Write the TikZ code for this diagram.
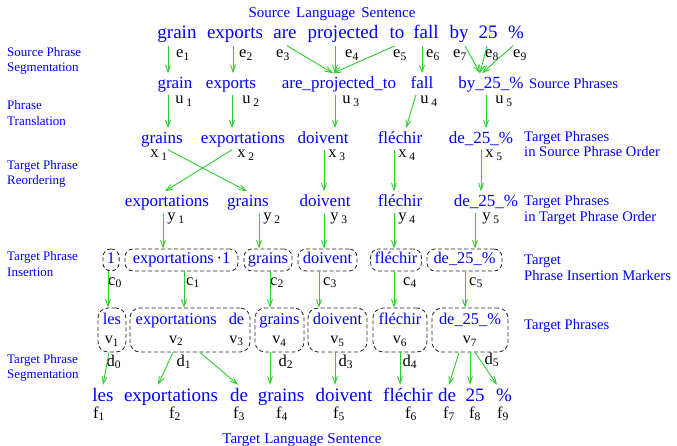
\documentclass[tikz,border=0pt]{standalone}
\usepackage{fontspec}
\setmainfont{Liberation Serif}
\usepackage{tikz}
\usetikzlibrary{arrows.meta}

\definecolor{arrgreen}{RGB}{45,205,45}
\newcommand{\sublab}[2]{#1\textsubscript{#2}}
\newcommand{\sublabsp}[2]{#1\,\textsubscript{#2}}
\newcommand{\vlab}[1]{{\color{black}\fontsize{16}{19}\selectfont v\textsubscript{#1}}}

\begin{document}
\begin{tikzpicture}[x=1pt, y=-1pt,
        word/.style={text=blue, font=\fontsize{19}{22}\selectfont,
            inner sep=0pt, outer sep=3pt, text height=13.3pt, text depth=4.2pt},
        phrase/.style={text=blue, font=\fontsize{17}{20}\selectfont,
            inner sep=0pt, outer sep=3pt, text height=11.9pt, text depth=3.7pt},
        var/.style={font=\fontsize{16.5}{18}\selectfont, inner sep=0pt, anchor=base},
        title/.style={text=blue, font=\fontsize{15}{18}\selectfont, inner sep=0pt},
        stage/.style={text=blue, font=\fontsize{13}{15.5}\selectfont,
            align=left, anchor=west, inner sep=0pt},
        side/.style={text=blue, font=\fontsize{14.6}{15.5}\selectfont,
            align=left, anchor=west, inner sep=0pt},
        marker/.style={draw=black!85, dash pattern=on 4pt off 2.5pt, line width=0.8pt,
            rounded corners=8pt, text=blue, font=\fontsize{16.4}{19}\selectfont,
            minimum height=22pt, inner xsep=4pt, inner ysep=0pt,
            text height=11.5pt, text depth=3.6pt},
        tbox/.style={draw=black!85, dash pattern=on 4pt off 2.5pt, line width=0.8pt,
            rounded corners=10pt, text=blue, font=\fontsize{16.4}{19}\selectfont,
            minimum height=44pt, inner xsep=4pt, inner ysep=0pt, align=center},
        arr/.style={-{Straight Barb[length=7pt,width=5pt]}, line width=0.9pt, arrgreen}
      ]
      \useasboundingbox (0,0) rectangle (677,446);

      % Stage names, left column
      \node[stage] at (7,61)  (st1) {Source Phrase\\Segmentation};
      \node[stage] at (7,113) (st2) {Phrase\\Translation};
      \node[stage] at (7,174) (st3) {Target Phrase\\Reordering};
      \node[stage] at (7,264) (st4) {Target Phrase\\Insertion};
      \node[stage] at (7,368) (st5) {Target Phrase\\Segmentation};

      % Source sentence
      \node[title] at (332,14) (srctitle) {Source\hspace{6pt}Language\hspace{6pt}Sentence};
      \node[word] at (177,34) (s1) {grain};
      \node[word] at (235,34) (s2) {exports};
      \node[word] at (285,34) (s3) {are};
      \node[word] at (343,34) (s4) {projected};
      \node[word] at (397,34) (s5) {to};
      \node[word] at (426,34) (s6) {fall};
      \node[word] at (459,34) (s7) {by};
      \node[word] at (488,34) (s8) {25};
      \node[word] at (516,34) (s9) {\%};

      \node[var] at (183,57.5) (e1) {\sublab{e}{1}};
      \node[var] at (246,57.5) (e2) {\sublab{e}{2}};
      \node[var] at (283,57.5) (e3) {\sublab{e}{3}};
      \node[var] at (352,57.5) (e4) {\sublab{e}{4}};
      \node[var] at (400,57.5) (e5) {\sublab{e}{5}};
      \node[var] at (433,57.5) (e6) {\sublab{e}{6}};
      \node[var] at (460,57.5) (e7) {\sublab{e}{7}};
      \node[var] at (492,57.5) (e8) {\sublab{e}{8}};
      \node[var] at (520,57.5) (e9) {\sublab{e}{9}};

      % Source phrases
      \node[phrase] at (175,84) (sp1) {grain};
      \node[phrase] at (231,84) (sp2) {exports};
      \node[phrase] at (339,84) (sp3) {are\_projected\_to};
      \node[phrase] at (422,84) (sp4) {fall};
      \node[phrase] at (491,84) (sp5) {by\_25\_\%};
      \node[side] at (529,83.5) (sidesp) {Source Phrases};

      \node[var] at (184,104) (u1) {\sublabsp{u}{1}};
      \node[var] at (251,104) (u2) {\sublabsp{u}{2}};
      \node[var] at (351,104) (u3) {\sublabsp{u}{3}};
      \node[var] at (429,104) (u4) {\sublabsp{u}{4}};
      \node[var] at (504,104) (u5) {\sublabsp{u}{5}};

      % Target phrases, source order
      \node[phrase] at (162,139) (tp1) {grains};
      \node[phrase] at (243,139) (tp2) {exportations};
      \node[phrase] at (323,139) (tp3) {doivent};
      \node[phrase] at (400,139) (tp4) {fléchir};
      \node[phrase] at (481,139) (tp5) {de\_25\_\%};
      \node[side] at (524,144) (sidetp) {Target Phrases\\in Source Phrase Order};

      \node[var] at (159,158) (x1) {\sublabsp{x}{1}};
      \node[var] at (246,158) (x2) {\sublabsp{x}{2}};
      \node[var] at (337,158) (x3) {\sublabsp{x}{3}};
      \node[var] at (407,158) (x4) {\sublabsp{x}{4}};
      \node[var] at (494,158) (x5) {\sublabsp{x}{5}};

      % Target phrases, target order
      \node[phrase] at (167,202) (ro1) {exportations};
      \node[phrase] at (248,202) (ro2) {grains};
      \node[phrase] at (325,202) (ro3) {doivent};
      \node[phrase] at (400,202) (ro4) {fléchir};
      \node[phrase] at (486,202) (ro5) {de\_25\_\%};
      \node[side] at (524,210) (sidero) {Target Phrases\\in Target Phrase Order};

      \node[var] at (176,221) (y1) {\sublabsp{y}{1}};
      \node[var] at (272,221) (y2) {\sublabsp{y}{2}};
      \node[var] at (339,221) (y3) {\sublabsp{y}{3}};
      \node[var] at (407,221) (y4) {\sublabsp{y}{4}};
      \node[var] at (491,221) (y5) {\sublabsp{y}{5}};

      % Insertion markers
      \node[marker, minimum width=16pt]  at (111,260)   (ib0) {1};
      \node[marker, minimum width=113pt] at (181.5,260) (ib1) {exportations\,{\color{black}·}1};
      \node[marker, minimum width=48pt]  at (268,260)   (ib2) {grains};
      \node[marker, minimum width=59pt]  at (327.5,260) (ib3) {doivent};
      \node[marker, minimum width=50pt]  at (396,260)   (ib4) {fléchir};
      \node[marker, minimum width=75pt]  at (464.5,260) (ib5) {de\_25\_\%};
      \node[side] at (524,268) (sideib) {Target\\Phrase Insertion Markers};

      \node[var] at (115,285) (c0) {\sublab{c}{0}};
      \node[var] at (193,285) (c1) {\sublab{c}{1}};
      \node[var] at (277,285) (c2) {\sublab{c}{2}};
      \node[var] at (330,285) (c3) {\sublab{c}{3}};
      \node[var] at (410,285) (c4) {\sublab{c}{4}};
      \node[var] at (476,285) (c5) {\sublab{c}{5}};

      % Target phrases with word positions
      \node[tbox, minimum width=28pt]  at (112,330)   (tb1) {les\\\vlab{1}};
      \node[tbox, minimum width=120pt] at (190,330)   (tb2)
        {\begin{tabular}{@{}c@{\hspace{12pt}}c@{}}exportations & de\\ \vlab{2} & \vlab{3}\end{tabular}};
      \node[tbox, minimum width=49pt]  at (279.5,330) (tb3) {grains\\\vlab{4}};
      \node[tbox, minimum width=59pt]  at (337.5,330) (tb4) {doivent\\\vlab{5}};
      \node[tbox, minimum width=54pt]  at (400,330)   (tb5) {fléchir\\\vlab{6}};
      \node[tbox, minimum width=76pt]  at (470,330)   (tb6) {de\_25\_\%\\\vlab{7}};
      \node[side] at (524,326) (sidetb) {Target Phrases};

      \node[var] at (114,366) (d0) {\sublab{d}{0}};
      \node[var] at (184,366) (d1) {\sublab{d}{1}};
      \node[var] at (286,366) (d2) {\sublab{d}{2}};
      \node[var] at (346,366) (d3) {\sublab{d}{3}};
      \node[var] at (410,366) (d4) {\sublab{d}{4}};
      \node[var] at (492,364) (d5) {\sublab{d}{5}};

      % Target sentence
      \node[word] at (103,396.5) (t1) {les};
      \node[word] at (171,396.5) (t2) {exportations};
      \node[word] at (239,396.5) (t3) {de};
      \node[word] at (281,396.5) (t4) {grains};
      \node[word] at (344,396.5) (t5) {doivent};
      \node[word] at (408,396.5) (t6) {fléchir};
      \node[word] at (447,396.5) (t7) {de};
      \node[word] at (475,396.5) (t8) {25};
      \node[word] at (504,396.5) (t9) {\%};

      \node[var] at (99,418)  (f1) {\sublab{f}{1}};
      \node[var] at (175,418) (f2) {\sublab{f}{2}};
      \node[var] at (239,418) (f3) {\sublab{f}{3}};
      \node[var] at (282,418) (f4) {\sublab{f}{4}};
      \node[var] at (339,418) (f5) {\sublab{f}{5}};
      \node[var] at (411,418) (f6) {\sublab{f}{6}};
      \node[var] at (449,418) (f7) {\sublab{f}{7}};
      \node[var] at (475,418) (f8) {\sublab{f}{8}};
      \node[var] at (503,418) (f9) {\sublab{f}{9}};
      \node[title, anchor=base] at (302,443.5) (tgttitle) {Target\hspace{4pt}Language\hspace{4pt}Sentence};

      % Segmentation arrows
      \draw[arr] ([xshift=-9pt]s1.south) -- ([xshift=-9pt]s1.south |- sp1.north);
      \draw[arr] ([xshift=-2pt]s2.south) -- ([xshift=-2pt]s2.south |- sp2.north);
      \draw[arr] ([xshift=2pt]s3.south)  -- ([xshift=-6pt]sp3.north);
      \draw[arr] ([xshift=-8pt]s4.south) -- ([xshift=-4pt]sp3.north);
      \draw[arr] ([xshift=-2pt]s5.south) -- ([xshift=-6pt]sp3.north);
      \draw[arr] ([xshift=-4pt]s6.south) -- ([xshift=-4pt]s6.south |- sp4.north);
      \draw[arr] ([xshift=6pt]s7.south)  -- ([xshift=-11pt]sp5.north);
      \draw[arr] ([xshift=-1pt]s8.south) -- ([xshift=-11pt]sp5.north);
      \draw[arr] ([xshift=-3pt]s9.south) -- ([xshift=-9pt]sp5.north);

      % Translation arrows
      \draw[arr] ([xshift=-7pt]sp1.south) -- ([xshift=-7pt]sp1.south |- tp1.north);
      \draw[arr] ([xshift=1pt]sp2.south)  -- ([xshift=1pt]sp2.south |- tp2.north);
      \draw[arr] ([xshift=-4pt]sp3.south) -- ([xshift=-4pt]sp3.south |- tp3.north);
      \draw[arr] ([xshift=-6pt]sp4.south) -- ([xshift=6pt]tp4.north);
      \draw[arr] ([xshift=-5pt]sp5.south) -- ([xshift=-5pt]sp5.south |- tp5.north);

      % Reordering arrows (the crossing pair)
      \draw[arr] ([xshift=6pt]tp1.south)   -- ([xshift=-1pt]ro2.north);
      \draw[arr] ([xshift=-11pt]tp2.south) -- ([xshift=-2pt]ro1.north);
      \draw[arr] ([xshift=1pt]tp3.south)   -- ([xshift=1pt]tp3.south |- ro3.north);
      \draw[arr] ([xshift=-6pt]tp4.south)  -- ([xshift=-6pt]tp4.south |- ro4.north);
      \draw[arr] (tp5.south) -- (tp5.south |- ro5.north);

      % Insertion arrows
      \draw[arr] ([xshift=-4pt]ro1.south)  -- ([xshift=-4pt]ro1.south |- ib1.north);
      \draw[arr] ([xshift=11pt]ro2.south)  -- ([xshift=11pt]ro2.south |- ib2.north);
      \draw[arr] ([xshift=-1pt]ro3.south)  -- ([xshift=-1pt]ro3.south |- ib3.north);
      \draw[arr] ([xshift=-6pt]ro4.south)  -- ([xshift=-6pt]ro4.south |- ib4.north);
      \draw[arr] ([xshift=-11pt]ro5.south) -- ([xshift=-11pt]ro5.south |- ib5.north);

      % Markers to target phrases
      \draw[arr] ([xshift=-3pt]ib0.south)   -- ([xshift=-3pt]ib0.south |- tb1.north);
      \draw[arr] ([xshift=2.5pt]ib1.south)  -- ([xshift=2.5pt]ib1.south |- tb2.north);
      \draw[arr] ([xshift=2pt]ib2.south)    -- ([xshift=2pt]ib2.south |- tb3.north);
      \draw[arr] ([xshift=-8.5pt]ib3.south) -- ([xshift=-8.5pt]ib3.south |- tb4.north);
      \draw[arr] ([xshift=-2pt]ib4.south)   -- ([xshift=-2pt]ib4.south |- tb5.north);
      \draw[arr] ([xshift=0.5pt]ib5.south)  -- ([xshift=0.5pt]ib5.south |- tb6.north);

      % Target segmentation arrows
      \draw[arr] ([xshift=-3pt]tb1.south)   -- (t1.north);
      \draw[arr] ([xshift=-17pt]tb2.south)  -- ([xshift=-13pt]t2.north);
      \draw[arr] ([xshift=10pt]tb2.south)   -- ([xshift=-1pt]t3.north);
      \draw[arr] ([xshift=-9.5pt]tb3.south) -- ([xshift=-9.5pt]tb3.south |- t4.north);
      \draw[arr] ([xshift=-2.5pt]tb4.south) -- ([xshift=-2.5pt]tb4.south |- t5.north);
      \draw[arr] (tb5.south) -- (tb5.south |- t6.north);
      \draw[arr] ([xshift=-11pt]tb6.south)  -- ([xshift=2pt]t7.north);
      \draw[arr] (tb6.south)                -- ([xshift=-5pt]t8.north);
      \draw[arr] ([xshift=5pt]tb6.south)    -- ([xshift=-7pt]t9.north);
    \end{tikzpicture}
\end{document}
